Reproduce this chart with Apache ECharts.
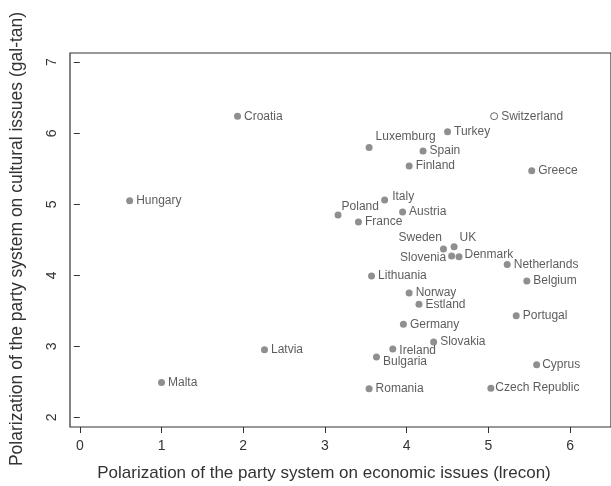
<!DOCTYPE html>
<html>
<head>
<meta charset="utf-8">
<script src="https://cdn.jsdelivr.net/npm/echarts@6/dist/echarts.min.js"></script>
<style>
  html, body { margin: 0; padding: 0; background: #fff; }
  #chart { width: 611px; height: 486px; }
</style>
</head>
<body>
<div id="chart"></div>
<script>
// Party-system polarization by country: economic (x) vs cultural (y)
const countries = ['Croatia', 'Hungary', 'Switzerland', 'Turkey', 'Luxemburg', 'Spain', 'Finland', 'Greece',
  'Italy', 'Poland', 'Austria', 'France', 'Sweden', 'UK', 'Slovenia', 'Denmark', 'Netherlands',
  'Lithuania', 'Belgium', 'Norway', 'Estland', 'Portugal', 'Germany', 'Latvia', 'Malta', 'Slovakia',
  'Ireland', 'Bulgaria', 'Cyprus', 'Romania', 'Czech Republic'];
const econ = [1.93, 0.61, 5.07, 4.50, 3.54, 4.20, 4.03, 5.53,
  3.73, 3.16, 3.95, 3.41, 4.45, 4.58, 4.55, 4.64, 5.23,
  3.57, 5.47, 4.03, 4.15, 5.34, 3.96, 2.26, 1.00, 4.33,
  3.83, 3.63, 5.59, 3.54, 5.03];
const cultural = [6.24, 5.05, 6.24, 6.02, 5.80, 5.75, 5.54, 5.47,
  5.06, 4.85, 4.89, 4.75, 4.37, 4.40, 4.27, 4.26, 4.15,
  3.99, 3.92, 3.75, 3.59, 3.43, 3.31, 2.95, 2.49, 3.06,
  2.96, 2.85, 2.74, 2.40, 2.41];
// Countries drawn with an open marker
const openMarker = ['Switzerland'];

const xTicks = [0, 1, 2, 3, 4, 5, 6];
const yTicks = [2, 3, 4, 5, 6, 7];

const xTitle = 'Polarization of the party system on economic issues (lrecon)';
const yTitle = 'Polarization of the party system on cultural issues (gal-tan)';

// Label placement tweaks so crowded names do not collide
const labelPlacement = {
  'Luxemburg': { position: 'right', dx: 0, dy: -11 },
  'Italy': { position: 'right', dx: 1, dy: -3 },
  'Poland': { position: 'right', dx: -3, dy: -8 },
  'Sweden': { position: 'left', dx: 5, dy: -11 },
  'UK': { position: 'right', dx: -1, dy: -9.5 },
  'Slovenia': { position: 'left', dx: 1, dy: 2 },
  'Denmark': { position: 'right', dx: -1, dy: -2 },
  'Ireland': { position: 'right', dx: 0, dy: 2 },
  'Bulgaria': { position: 'right', dx: 0, dy: 5 },
  'Cyprus': { position: 'right', dx: -1, dy: 0 },
  'Czech Republic': { position: 'right', dx: -2, dy: 0 }
};

const FONT = '"Liberation Sans", Arial, Helvetica, sans-serif';
const INK = '#333333';
const DOT = '#737377';

const points = countries.map((name, i) => {
  const open = openMarker.includes(name);
  const lp = labelPlacement[name];
  return {
    name: name,
    value: [econ[i], cultural[i]],
    itemStyle: open
      ? { color: '#ffffff', borderColor: '#444444', borderWidth: 1 }
      : { color: DOT, borderWidth: 0 },
    label: { position: lp ? lp.position : 'right' }
  };
});

const chart = echarts.init(document.getElementById('chart'), null, { renderer: 'canvas' });

chart.setOption({
  backgroundColor: '#ffffff',
  animation: false,
  grid: {
    left: 70, top: 53, bottom: 59, right: -6,
    show: true, borderColor: INK, borderWidth: 1.2, backgroundColor: 'transparent'
  },
  xAxis: {
    type: 'value',
    min: -0.12, max: 6.5,
    axisLine: { show: false },
    splitLine: { show: false },
    axisTick: { show: true, customValues: xTicks, length: 6, lineStyle: { color: INK, width: 1 } },
    axisLabel: { customValues: xTicks, margin: 12, fontSize: 14, color: INK, fontFamily: FONT }
  },
  yAxis: {
    type: 'value',
    min: 1.863, max: 7.13,
    axisLine: { show: false },
    splitLine: { show: false },
    axisTick: { show: true, customValues: yTicks, length: 6, lineStyle: { color: INK, width: 1 } },
    axisLabel: { customValues: yTicks, rotate: 90, margin: 11, fontSize: 14, color: INK, fontFamily: FONT }
  },
  graphic: [
    {
      type: 'text', x: 324, y: 473,
      style: { text: xTitle, font: '17px ' + FONT, fill: INK, textAlign: 'center', textVerticalAlign: 'middle' }
    },
    {
      type: 'text', rotation: Math.PI / 2, x: 17, y: 239,
      style: { text: yTitle, font: '17.5px ' + FONT, fill: INK, textAlign: 'center', textVerticalAlign: 'middle' }
    }
  ],
  series: [{
    type: 'scatter',
    symbol: 'circle',
    symbolSize: 7,
    data: points,
    label: {
      show: true,
      formatter: '{b}',
      distance: 3,
      fontSize: 12,
      color: INK,
      fontFamily: FONT
    },
    labelLayout: function (params) {
      const lp = labelPlacement[countries[params.dataIndex]];
      return lp ? { dx: lp.dx, dy: lp.dy } : {};
    }
  }]
});
</script>
</body>
</html>
